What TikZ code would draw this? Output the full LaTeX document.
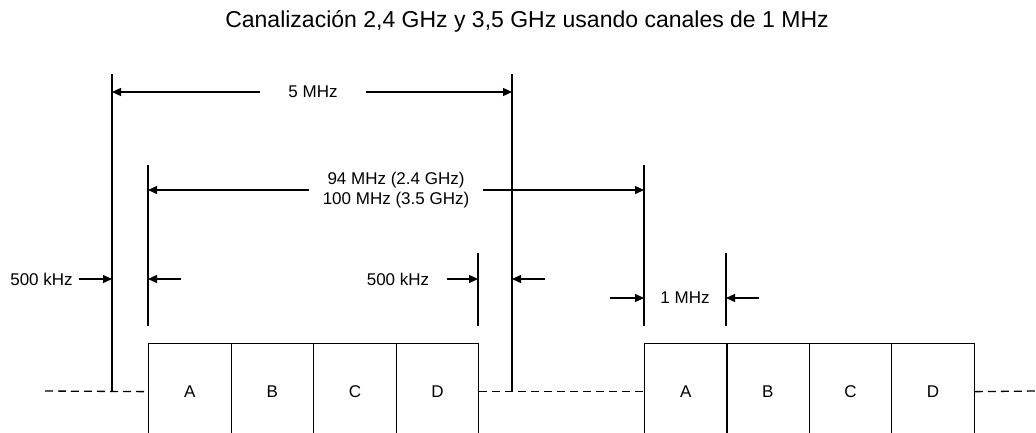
\documentclass[tikz,border=0pt]{standalone}
\usepackage{fontspec}
\setmainfont{Liberation Sans}
\usetikzlibrary{arrows.meta}
\begin{document}
\begin{tikzpicture}[x=1pt,y=-1pt,line width=1.3pt,
  dim/.style={-{Triangle[length=9pt,width=8pt]}},
  lbl/.style={inner ysep=0pt,font=\fontsize{17}{20}\selectfont,align=center},
  chan/.style={draw,minimum width=82.5pt,minimum height=96pt,inner sep=0pt,anchor=north west,font=\fontsize{17}{20}\selectfont},
  dsh/.style={dash pattern=on 8pt off 5pt}]
\useasboundingbox (0,0) rectangle (1036,432);
\clip (0,0) rectangle (1036,432);

% title
\node[font=\fontsize{23}{27}\selectfont] (title) at (527,21) {Canalización 2,4 GHz y 3,5 GHz usando canales de 1 MHz};

% channel boxes, group 1
\node[chan] (A1) at (148,343) {A};
\node[chan] (B1) at (230.5,343) {B};
\node[chan] (C1) at (313,343) {C};
\node[chan] (D1) at (395.5,343) {D};
% group 2
\node[chan] (A2) at (644,343) {A};
\node[chan] (B2) at (726,343) {B};
\node[chan] (C2) at (808.5,343) {C};
\node[chan] (D2) at (891,343) {D};

% dashed baseline
\coordinate (d0) at (45,391);
\coordinate (d9) at (1036,391);
\draw[dsh] (d0) -- (A1.west);
\draw[dsh] (D1.east) -- (A2.west);
\draw[dsh] (D2.east) -- (d9);

% long vertical lines
\coordinate (L1t) at (112,74);  \coordinate (L1b) at (112,391);
\coordinate (L2t) at (512,74);  \coordinate (L2b) at (512,391);
\draw (L1t) -- (L1b);
\draw (L2t) -- (L2b);

% marker lines
\coordinate (M1t) at (148,165); \coordinate (M1b) at (148,326);
\coordinate (M2t) at (478,253); \coordinate (M2b) at (478,326);
\coordinate (M3t) at (644,165); \coordinate (M3b) at (644,326);
\coordinate (M4t) at (726,253); \coordinate (M4b) at (726,326);
\draw (M1t) -- (M1b);
\draw (M2t) -- (M2b);
\draw (M3t) -- (M3b);
\draw (M4t) -- (M4b);

% 5 MHz
\node[lbl,inner xsep=28pt] (t5) at (313,92) {5 MHz};
\coordinate (a5l) at (112,92);
\coordinate (a5r) at (512,92);
\draw[dim] (t5) -- (a5l);
\draw[dim] (t5) -- (a5r);

% 94 / 100 MHz
\node[lbl,inner xsep=13pt] (t94) at (396,190) {94 MHz (2.4 GHz)\\100 MHz (3.5 GHz)};
\coordinate (a94l) at (148,190);
\coordinate (a94r) at (644,190);
\draw[dim] (t94.west) -- (a94l);
\draw[dim] (t94.east) -- (a94r);

% 500 kHz left
\node[lbl,inner xsep=6pt] (t500a) at (41.5,279) {500 kHz};
\coordinate (a500a) at (112,279);
\draw[dim] (t500a) -- (a500a);
\coordinate (s1t) at (181,279);
\coordinate (s1) at (148,279);
\draw[dim] (s1t) -- (s1);

% 500 kHz right
\node[lbl,inner xsep=17pt] (t500b) at (398,279) {500 kHz};
\coordinate (a500b) at (478,279);
\draw[dim] (t500b) -- (a500b);
\coordinate (s2t) at (545,279);
\coordinate (s2) at (512,279);
\draw[dim] (s2t) -- (s2);

% 1 MHz
\node[lbl] (t1) at (685,298) {1 MHz};
\coordinate (m1t) at (610,298);
\coordinate (m1) at (644,298);
\coordinate (m2t) at (759,298);
\coordinate (m2) at (726,298);
\draw[dim] (m1t) -- (m1);
\draw[dim] (m2t) -- (m2);
\end{tikzpicture}
\end{document}
